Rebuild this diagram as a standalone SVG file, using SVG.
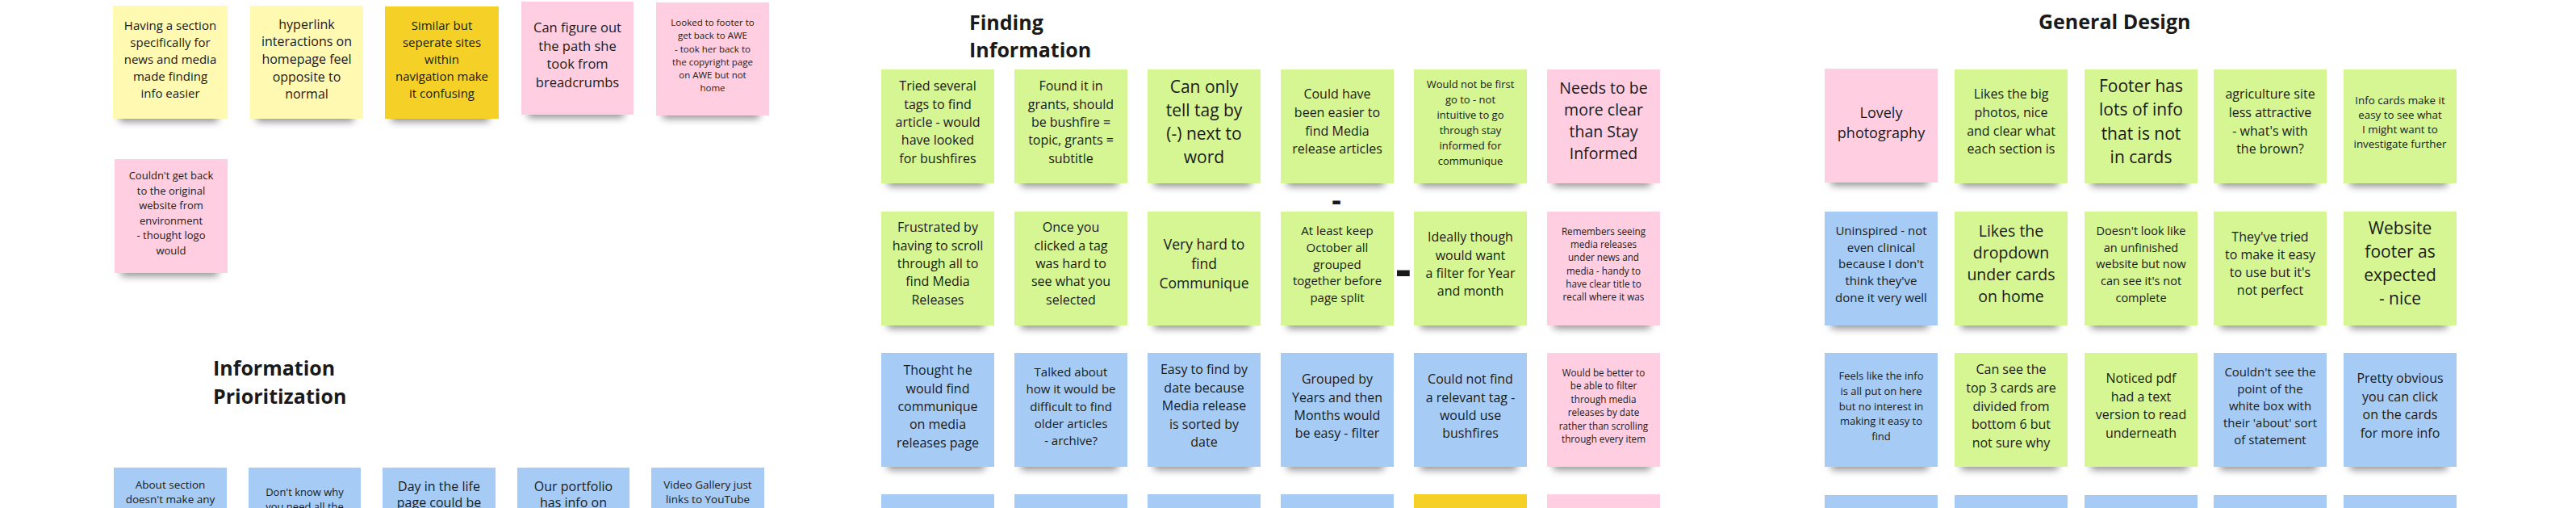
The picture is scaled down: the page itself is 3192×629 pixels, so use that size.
<svg xmlns="http://www.w3.org/2000/svg" width="3192" height="629" viewBox="0 0 3192 629">
<defs>
<filter id="blur" x="-20%" y="-100%" width="140%" height="300%"><feGaussianBlur stdDeviation="5"/></filter>
<style>
.sh{fill:#000;opacity:.42;filter:url(#blur)}
.y1{fill:#fff9b1}.y2{fill:#f5d128}.g{fill:#d5f692}.p{fill:#ffcee0}.b{fill:#a6ccf5}
.t{font-family:"Open Sans","Liberation Sans",sans-serif;fill:#1a1a1a;text-anchor:middle}
.h{font-family:"Open Sans","Liberation Sans",sans-serif;font-weight:700;font-size:25px;fill:#1a1a1a}
.d{font-family:"Open Sans","Liberation Sans",sans-serif;font-weight:700;fill:#1a1a1a;text-anchor:middle}
</style>
</defs>
<rect width="3192" height="629" fill="#ffffff"/>

<!-- LEFT SECTION -->
<g id="l1"><rect class="sh" x="148" y="135" width="122" height="16"/><rect class="y1" x="140" y="7" width="142" height="140"/>
<text class="t" font-size="15" y="37"><tspan x="211">Having a section</tspan><tspan x="211" dy="21">specifically for</tspan><tspan x="211" dy="21">news and media</tspan><tspan x="211" dy="21">made finding</tspan><tspan x="211" dy="21">info easier</tspan></text></g>
<g id="l2"><rect class="sh" x="318" y="135" width="120" height="16"/><rect class="y1" x="310" y="7" width="140" height="140"/>
<text class="t" font-size="16" y="35.5"><tspan x="380">hyperlink</tspan><tspan x="380" dy="21.7">interactions on</tspan><tspan x="380" dy="21.7">homepage feel</tspan><tspan x="380" dy="21.7">opposite to</tspan><tspan x="380" dy="21.7">normal</tspan></text></g>
<g id="l3"><rect class="sh" x="485" y="135" width="121" height="16"/><rect class="y2" x="477" y="8" width="141" height="139"/>
<text class="t" font-size="15" y="36.7"><tspan x="547.5">Similar but</tspan><tspan x="547.5" dy="21">seperate sites</tspan><tspan x="547.5" dy="21">within</tspan><tspan x="547.5" dy="21">navigation make</tspan><tspan x="547.5" dy="21">it confusing</tspan></text></g>
<g id="l4"><rect class="sh" x="654" y="130" width="119" height="16"/><rect class="p" x="646" y="2" width="139" height="140"/>
<text class="t" font-size="16.5" y="39.8"><tspan x="715.5">Can figure out</tspan><tspan x="715.5" dy="22.8">the path she</tspan><tspan x="715.5" dy="22.8">took from</tspan><tspan x="715.5" dy="22.8">breadcrumbs</tspan></text></g>
<g id="l5"><rect class="sh" x="821" y="131" width="120" height="16"/><rect class="p" x="813" y="3" width="140" height="140"/>
<text class="t" font-size="11.5" y="32.1"><tspan x="883">Looked to footer to</tspan><tspan x="883" dy="16.2">get back to AWE</tspan><tspan x="883" dy="16.2">- took her back to</tspan><tspan x="883" dy="16.2">the copyright page</tspan><tspan x="883" dy="16.2">on AWE but not</tspan><tspan x="883" dy="16.2">home</tspan></text></g>
<g id="l6"><rect class="sh" x="150" y="326" width="120" height="16"/><rect class="p" x="142" y="197" width="140" height="141"/>
<text class="t" font-size="13" y="222"><tspan x="212">Couldn't get back</tspan><tspan x="212" dy="18.6">to the original</tspan><tspan x="212" dy="18.6">website from</tspan><tspan x="212" dy="18.6">environment</tspan><tspan x="212" dy="18.6">- thought logo</tspan><tspan x="212" dy="18.6">would</tspan></text></g>

<g id="title-ip"><text class="h" x="264" y="465">Information</text><text class="h" x="264" y="500">Prioritization</text></g>

<g id="ip1"><rect class="b" x="141" y="579" width="140" height="141"/>
<text class="t" font-size="13.5" y="604.5"><tspan x="211">About section</tspan><tspan x="211" dy="18">doesn't make any</tspan></text></g>
<g id="ip2"><rect class="b" x="308" y="579" width="139" height="141"/>
<text class="t" font-size="13" y="613.5"><tspan x="377.5">Don't know why</tspan><tspan x="377.5" dy="18">you need all the</tspan></text></g>
<g id="ip3"><rect class="b" x="474" y="579" width="140" height="141"/>
<text class="t" font-size="16" y="607.5"><tspan x="544">Day in the life</tspan><tspan x="544" dy="20.5">page could be</tspan></text></g>
<g id="ip4"><rect class="b" x="641" y="579" width="139" height="141"/>
<text class="t" font-size="16" y="607.5"><tspan x="710.5">Our portfolio</tspan><tspan x="710.5" dy="20.5">has info on</tspan></text></g>
<g id="ip5"><rect class="b" x="807" y="579" width="140" height="141"/>
<text class="t" font-size="13.5" y="604.5"><tspan x="877">Video Gallery just</tspan><tspan x="877" dy="18">links to YouTube</tspan></text></g>

<!-- FINDING INFORMATION -->
<g id="title-fi"><text class="h" x="1201" y="37">Finding</text><text class="h" x="1201" y="71">Information</text></g>

<g id="f11"><rect class="sh" x="1100" y="215" width="120" height="16"/><rect class="g" x="1092" y="86" width="140" height="141"/>
<text class="t" font-size="16" y="112.3"><tspan x="1162">Tried several</tspan><tspan x="1162" dy="22.3">tags to find</tspan><tspan x="1162" dy="22.3">article - would</tspan><tspan x="1162" dy="22.3">have looked</tspan><tspan x="1162" dy="22.3">for bushfires</tspan></text></g>
<g id="f12"><rect class="sh" x="1265" y="215" width="120" height="16"/><rect class="g" x="1257" y="86" width="140" height="141"/>
<text class="t" font-size="16" y="112.3"><tspan x="1327">Found it in</tspan><tspan x="1327" dy="22.3">grants, should</tspan><tspan x="1327" dy="22.3">be bushfire =</tspan><tspan x="1327" dy="22.3">topic, grants =</tspan><tspan x="1327" dy="22.3">subtitle</tspan></text></g>
<g id="f13"><rect class="sh" x="1430" y="215" width="120" height="16"/><rect class="g" x="1422" y="86" width="140" height="141"/>
<text class="t" font-size="21" y="115"><tspan x="1492">Can only</tspan><tspan x="1492" dy="29">tell tag by</tspan><tspan x="1492" dy="29">(-) next to</tspan><tspan x="1492" dy="29">word</tspan></text></g>
<g id="f14"><rect class="sh" x="1595" y="215" width="120" height="16"/><rect class="g" x="1587" y="86" width="140" height="141"/>
<text class="t" font-size="16" y="122.3"><tspan x="1657">Could have</tspan><tspan x="1657" dy="22.7">been easier to</tspan><tspan x="1657" dy="22.7">find Media</tspan><tspan x="1657" dy="22.7">release articles</tspan></text></g>
<g id="f15"><rect class="sh" x="1760" y="215" width="120" height="16"/><rect class="g" x="1752" y="86" width="140" height="141"/>
<text class="t" font-size="13" y="109.3"><tspan x="1822">Would not be first</tspan><tspan x="1822" dy="18.9">go to - not</tspan><tspan x="1822" dy="18.9">intuitive to go</tspan><tspan x="1822" dy="18.9">through stay</tspan><tspan x="1822" dy="18.9">informed for</tspan><tspan x="1822" dy="18.9">communique</tspan></text></g>
<g id="f16"><rect class="sh" x="1925" y="215" width="120" height="16"/><rect class="p" x="1917" y="86" width="140" height="141"/>
<text class="t" font-size="19.5" y="116.4"><tspan x="1987">Needs to be</tspan><tspan x="1987" dy="27">more clear</tspan><tspan x="1987" dy="27">than Stay</tspan><tspan x="1987" dy="27">Informed</tspan></text></g>

<g id="f21"><rect class="sh" x="1100" y="391" width="120" height="16"/><rect class="g" x="1092" y="262" width="140" height="141"/>
<text class="t" font-size="16" y="287.3"><tspan x="1162">Frustrated by</tspan><tspan x="1162" dy="22.3">having to scroll</tspan><tspan x="1162" dy="22.3">through all to</tspan><tspan x="1162" dy="22.3">find Media</tspan><tspan x="1162" dy="22.3">Releases</tspan></text></g>
<g id="f22"><rect class="sh" x="1265" y="391" width="120" height="16"/><rect class="g" x="1257" y="262" width="140" height="141"/>
<text class="t" font-size="16" y="287.3"><tspan x="1327">Once you</tspan><tspan x="1327" dy="22.3">clicked a tag</tspan><tspan x="1327" dy="22.3">was hard to</tspan><tspan x="1327" dy="22.3">see what you</tspan><tspan x="1327" dy="22.3">selected</tspan></text></g>
<g id="f23"><rect class="sh" x="1430" y="391" width="120" height="16"/><rect class="g" x="1422" y="262" width="140" height="141"/>
<text class="t" font-size="17.5" y="308.8"><tspan x="1492">Very hard to</tspan><tspan x="1492" dy="24.3">find</tspan><tspan x="1492" dy="24.3">Communique</tspan></text></g>
<g id="f24"><rect class="sh" x="1595" y="391" width="120" height="16"/><rect class="g" x="1587" y="262" width="140" height="141"/>
<text class="t" font-size="15" y="291"><tspan x="1657">At least keep</tspan><tspan x="1657" dy="20.8">October all</tspan><tspan x="1657" dy="20.8">grouped</tspan><tspan x="1657" dy="20.8">together before</tspan><tspan x="1657" dy="20.8">page split</tspan></text></g>
<g id="f25"><rect class="sh" x="1760" y="391" width="120" height="16"/><rect class="g" x="1752" y="262" width="140" height="141"/>
<text class="t" font-size="16" y="299.3"><tspan x="1822">Ideally though</tspan><tspan x="1822" dy="22.3">would want</tspan><tspan x="1822" dy="22.3">a filter for Year</tspan><tspan x="1822" dy="22.3">and month</tspan></text></g>
<g id="f26"><rect class="sh" x="1925" y="391" width="120" height="16"/><rect class="p" x="1917" y="262" width="140" height="141"/>
<text class="t" font-size="11.7" y="290.6"><tspan x="1987">Remembers seeing</tspan><tspan x="1987" dy="16.3">media releases</tspan><tspan x="1987" dy="16.3">under news and</tspan><tspan x="1987" dy="16.3">media - handy to</tspan><tspan x="1987" dy="16.3">have clear title to</tspan><tspan x="1987" dy="16.3">recall where it was</tspan></text></g>

<g id="f31"><rect class="sh" x="1100" y="566" width="120" height="16"/><rect class="b" x="1092" y="437" width="140" height="141"/>
<text class="t" font-size="16" y="464.3"><tspan x="1162">Thought he</tspan><tspan x="1162" dy="22.3">would find</tspan><tspan x="1162" dy="22.3">communique</tspan><tspan x="1162" dy="22.3">on media</tspan><tspan x="1162" dy="22.3">releases page</tspan></text></g>
<g id="f32"><rect class="sh" x="1265" y="566" width="120" height="16"/><rect class="b" x="1257" y="437" width="140" height="141"/>
<text class="t" font-size="15" y="466"><tspan x="1327">Talked about</tspan><tspan x="1327" dy="21.3">how it would be</tspan><tspan x="1327" dy="21.3">difficult to find</tspan><tspan x="1327" dy="21.3">older articles</tspan><tspan x="1327" dy="21.3">- archive?</tspan></text></g>
<g id="f33"><rect class="sh" x="1430" y="566" width="120" height="16"/><rect class="b" x="1422" y="437" width="140" height="141"/>
<text class="t" font-size="16" y="463.3"><tspan x="1492">Easy to find by</tspan><tspan x="1492" dy="22.5">date because</tspan><tspan x="1492" dy="22.5">Media release</tspan><tspan x="1492" dy="22.5">is sorted by</tspan><tspan x="1492" dy="22.5">date</tspan></text></g>
<g id="f34"><rect class="sh" x="1595" y="566" width="120" height="16"/><rect class="b" x="1587" y="437" width="140" height="141"/>
<text class="t" font-size="16" y="475.3"><tspan x="1657">Grouped by</tspan><tspan x="1657" dy="22.3">Years and then</tspan><tspan x="1657" dy="22.3">Months would</tspan><tspan x="1657" dy="22.3">be easy - filter</tspan></text></g>
<g id="f35"><rect class="sh" x="1760" y="566" width="120" height="16"/><rect class="b" x="1752" y="437" width="140" height="141"/>
<text class="t" font-size="16" y="475.3"><tspan x="1822">Could not find</tspan><tspan x="1822" dy="22.3">a relevant tag -</tspan><tspan x="1822" dy="22.3">would use</tspan><tspan x="1822" dy="22.3">bushfires</tspan></text></g>
<g id="f36"><rect class="sh" x="1925" y="566" width="120" height="16"/><rect class="p" x="1917" y="437" width="140" height="141"/>
<text class="t" font-size="11.7" y="465.9"><tspan x="1987">Would be better to</tspan><tspan x="1987" dy="16.4">be able to filter</tspan><tspan x="1987" dy="16.4">through media</tspan><tspan x="1987" dy="16.4">releases by date</tspan><tspan x="1987" dy="16.4">rather than scrolling</tspan><tspan x="1987" dy="16.4">through every item</tspan></text></g>

<g id="f41"><rect class="b" x="1092" y="612" width="140" height="141"/></g>
<g id="f42"><rect class="b" x="1257" y="612" width="140" height="141"/></g>
<g id="f43"><rect class="b" x="1422" y="612" width="140" height="141"/></g>
<g id="f44"><rect class="b" x="1587" y="612" width="140" height="141"/></g>
<g id="f45"><rect class="y2" x="1752" y="612" width="140" height="141"/></g>
<g id="f46"><rect class="p" x="1917" y="612" width="140" height="141"/></g>

<g id="dashes"><text class="d" x="1656" y="260" font-size="36">-</text><text class="d" x="1739" y="355" font-size="60">-</text></g>

<!-- GENERAL DESIGN -->
<g id="title-gd"><text class="h" x="2526" y="36">General Design</text></g>

<g id="g11"><rect class="sh" x="2269" y="214" width="120" height="16"/><rect class="p" x="2261" y="85" width="140" height="141"/>
<text class="t" font-size="18" y="146"><tspan x="2331">Lovely</tspan><tspan x="2331" dy="25">photography</tspan></text></g>
<g id="g12"><rect class="sh" x="2430" y="215" width="120" height="16"/><rect class="g" x="2422" y="86" width="140" height="141"/>
<text class="t" font-size="16" y="122.3"><tspan x="2492">Likes the big</tspan><tspan x="2492" dy="22.7">photos, nice</tspan><tspan x="2492" dy="22.7">and clear what</tspan><tspan x="2492" dy="22.7">each section is</tspan></text></g>
<g id="g13"><rect class="sh" x="2591" y="215" width="120" height="16"/><rect class="g" x="2583" y="86" width="140" height="141"/>
<text class="t" font-size="21" y="114"><tspan x="2653">Footer has</tspan><tspan x="2653" dy="29.4">lots of info</tspan><tspan x="2653" dy="29.4">that is not</tspan><tspan x="2653" dy="29.4">in cards</tspan></text></g>
<g id="g14"><rect class="sh" x="2751" y="215" width="120" height="16"/><rect class="g" x="2743" y="86" width="140" height="141"/>
<text class="t" font-size="16" y="122.3"><tspan x="2813">agriculture site</tspan><tspan x="2813" dy="22.7">less attractive</tspan><tspan x="2813" dy="22.7">- what's with</tspan><tspan x="2813" dy="22.7">the brown?</tspan></text></g>
<g id="g15"><rect class="sh" x="2912" y="215" width="120" height="16"/><rect class="g" x="2904" y="86" width="140" height="141"/>
<text class="t" font-size="13.4" y="129.4"><tspan x="2974">Info cards make it</tspan><tspan x="2974" dy="18">easy to see what</tspan><tspan x="2974" dy="18">I might want to</tspan><tspan x="2974" dy="18">investigate further</tspan></text></g>

<g id="g21"><rect class="sh" x="2269" y="391" width="120" height="16"/><rect class="b" x="2261" y="262" width="140" height="141"/>
<text class="t" font-size="15" y="291"><tspan x="2331">Uninspired - not</tspan><tspan x="2331" dy="20.7">even clinical</tspan><tspan x="2331" dy="20.7">because I don't</tspan><tspan x="2331" dy="20.7">think they've</tspan><tspan x="2331" dy="20.7">done it very well</tspan></text></g>
<g id="g22"><rect class="sh" x="2430" y="391" width="120" height="16"/><rect class="g" x="2422" y="262" width="140" height="141"/>
<text class="t" font-size="19.5" y="293.4"><tspan x="2492">Likes the</tspan><tspan x="2492" dy="27">dropdown</tspan><tspan x="2492" dy="27">under cards</tspan><tspan x="2492" dy="27">on home</tspan></text></g>
<g id="g23"><rect class="sh" x="2591" y="391" width="120" height="16"/><rect class="g" x="2583" y="262" width="140" height="141"/>
<text class="t" font-size="14.5" y="290.8"><tspan x="2653">Doesn't look like</tspan><tspan x="2653" dy="20.7">an unfinished</tspan><tspan x="2653" dy="20.7">website but now</tspan><tspan x="2653" dy="20.7">can see it's not</tspan><tspan x="2653" dy="20.7">complete</tspan></text></g>
<g id="g24"><rect class="sh" x="2751" y="391" width="120" height="16"/><rect class="g" x="2743" y="262" width="140" height="141"/>
<text class="t" font-size="16" y="299.3"><tspan x="2813">They've tried</tspan><tspan x="2813" dy="22">to make it easy</tspan><tspan x="2813" dy="22">to use but it's</tspan><tspan x="2813" dy="22">not perfect</tspan></text></g>
<g id="g25"><rect class="sh" x="2912" y="391" width="120" height="16"/><rect class="g" x="2904" y="262" width="140" height="141"/>
<text class="t" font-size="21" y="290"><tspan x="2974">Website</tspan><tspan x="2974" dy="29">footer as</tspan><tspan x="2974" dy="29">expected</tspan><tspan x="2974" dy="29">- nice</tspan></text></g>

<g id="g31"><rect class="sh" x="2269" y="566" width="120" height="16"/><rect class="b" x="2261" y="437" width="140" height="141"/>
<text class="t" font-size="13" y="470.3"><tspan x="2331">Feels like the info</tspan><tspan x="2331" dy="18.6">is all put on here</tspan><tspan x="2331" dy="18.6">but no interest in</tspan><tspan x="2331" dy="18.6">making it easy to</tspan><tspan x="2331" dy="18.6">find</tspan></text></g>
<g id="g32"><rect class="sh" x="2430" y="566" width="120" height="16"/><rect class="g" x="2422" y="437" width="140" height="141"/>
<text class="t" font-size="16" y="463.3"><tspan x="2492">Can see the</tspan><tspan x="2492" dy="22.7">top 3 cards are</tspan><tspan x="2492" dy="22.7">divided from</tspan><tspan x="2492" dy="22.7">bottom 6 but</tspan><tspan x="2492" dy="22.7">not sure why</tspan></text></g>
<g id="g33"><rect class="sh" x="2591" y="566" width="120" height="16"/><rect class="g" x="2583" y="437" width="140" height="141"/>
<text class="t" font-size="16" y="474.3"><tspan x="2653">Noticed pdf</tspan><tspan x="2653" dy="22.4">had a text</tspan><tspan x="2653" dy="22.4">version to read</tspan><tspan x="2653" dy="22.4">underneath</tspan></text></g>
<g id="g34"><rect class="sh" x="2751" y="566" width="120" height="16"/><rect class="b" x="2743" y="437" width="140" height="141"/>
<text class="t" font-size="15" y="466"><tspan x="2813">Couldn't see the</tspan><tspan x="2813" dy="21">point of the</tspan><tspan x="2813" dy="21">white box with</tspan><tspan x="2813" dy="21">their 'about' sort</tspan><tspan x="2813" dy="21">of statement</tspan></text></g>
<g id="g35"><rect class="sh" x="2912" y="566" width="120" height="16"/><rect class="b" x="2904" y="437" width="140" height="141"/>
<text class="t" font-size="16" y="474.3"><tspan x="2974">Pretty obvious</tspan><tspan x="2974" dy="22.4">you can click</tspan><tspan x="2974" dy="22.4">on the cards</tspan><tspan x="2974" dy="22.4">for more info</tspan></text></g>

<g id="g41"><rect class="b" x="2261" y="613" width="140" height="141"/></g>
<g id="g42"><rect class="b" x="2422" y="613" width="140" height="141"/></g>
<g id="g43"><rect class="b" x="2583" y="613" width="140" height="141"/></g>
<g id="g44"><rect class="b" x="2743" y="613" width="140" height="141"/></g>
<g id="g45"><rect class="b" x="2904" y="613" width="140" height="141"/></g>

<g id="connectors"></g>
</svg>
